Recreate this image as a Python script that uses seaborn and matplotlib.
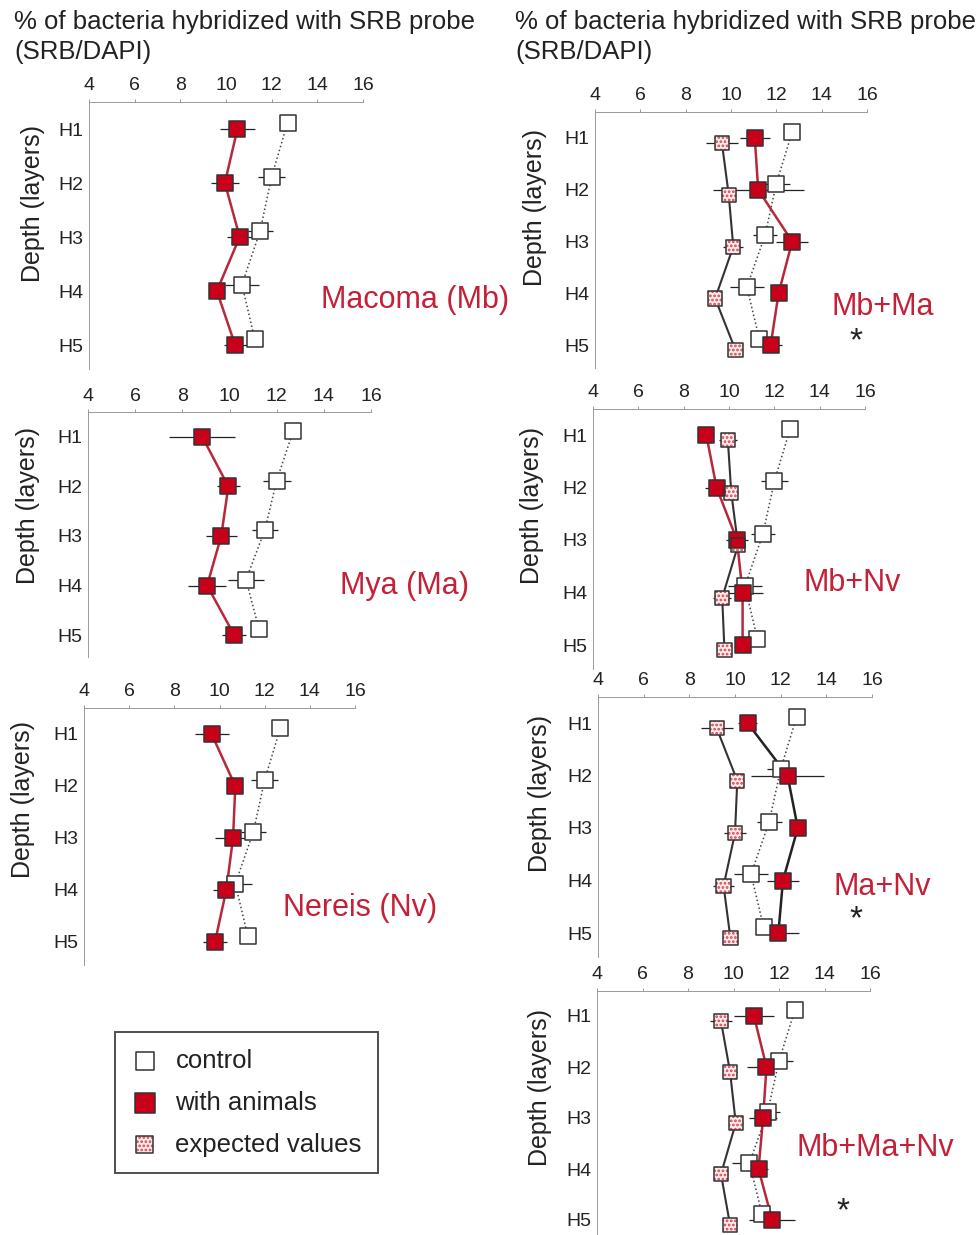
import numpy as np
import pandas as pd
import matplotlib
matplotlib.use("Agg")
import matplotlib.pyplot as plt
from matplotlib.legend_handler import HandlerTuple
import seaborn as sns

sns.set_theme(style="white")
plt.rcParams["font.family"] = ["Liberation Sans", "DejaVu Sans"]
plt.rcParams["hatch.linewidth"] = 1.3

# ---- data: % of bacteria hybridized with SRB probe (SRB/DAPI) per layer ----
layers = ["H1", "H2", "H3", "H4", "H5"]

control = [12.7, 12.0, 11.5, 10.7, 11.25]
control_err = [0.2, 0.6, 0.55, 0.75, 0.2]

macoma_animals = [10.5, 9.95, 10.6, 9.6, 10.4]
macoma_animals_err = [0.75, 0.6, 0.55, 0.35, 0.5]

mya_animals = [8.85, 9.95, 9.65, 9.05, 10.2]
mya_animals_err = [1.4, 0.5, 0.65, 0.8, 0.5]

nereis_animals = [9.65, 10.7, 10.6, 10.3, 9.8]
nereis_animals_err = [0.75, 0.3, 0.8, 0.6, 0.55]

mbma_animals = [11.05, 11.2, 12.7, 12.1, 11.75]
mbma_animals_err = [0.65, 2.0, 0.7, 0.3, 0.5]
mbma_expected = [9.6, 9.9, 10.1, 9.3, 10.2]
mbma_expected_err = [0.7, 0.3, 0.45, 0.3, 0.3]

mbnv_animals = [9.0, 9.45, 10.35, 10.6, 10.6]
mbnv_animals_err = [0.3, 0.5, 0.5, 0.9, 0.3]
mbnv_expected = [9.95, 10.1, 10.4, 9.7, 9.8]
mbnv_expected_err = [0.4, 0.3, 0.3, 0.4, 0.3]

manv_animals = [10.55, 12.3, 12.75, 12.1, 11.9]
manv_animals_err = [0.4, 1.6, 0.3, 0.7, 0.9]
manv_expected = [9.2, 10.1, 10.0, 9.5, 9.8]
manv_expected_err = [0.7, 0.3, 0.5, 0.45, 0.3]

mbmanv_animals = [10.9, 11.45, 11.3, 11.1, 11.7]
mbmanv_animals_err = [0.9, 0.85, 0.6, 0.4, 1.0]
mbmanv_expected = [9.45, 9.85, 10.1, 9.45, 9.85]
mbmanv_expected_err = [0.5, 0.3, 0.3, 0.3, 0.3]

x_ticks = [4, 6, 8, 10, 12, 14, 16]
axis_title = "% of bacteria hybridized with SRB probe\n(SRB/DAPI)"

# ---- styling ----
W, H = 976, 1235
RED = "#c8001a"
RED_LINE = "#b8283a"
LABEL_RED = "#c42038"
DOT_RED = "#d8404f"
EDGE = "#333333"
series_style = {
    "control": dict(face="white", line="#444444", ls=":", lw=1.1, s=125, dy=-0.12, hatch=None),
    "with animals": dict(face=RED, line=RED_LINE, ls="-", lw=1.8, s=135, dy=0.0, hatch=None),
    "expected values": dict(face="#fbecec", line="#333333", ls="-", lw=1.5, s=105, dy=0.1, hatch="...."),
}

fig = plt.figure(figsize=(W / 100, H / 100), dpi=100)
legend_handles = {}


def make_axes(x4, x16, y1, y5):
    unit = (y5 - y1) / 4
    top = y1 - 0.5 * unit
    bottom = y5 + 0.45 * unit
    ax = fig.add_axes([x4 / W, 1 - bottom / H, (x16 - x4) / W, (bottom - top) / H])
    return ax


def draw_panel(ax, series, name, name_xy, star_xy=None, ylabel_xy=None, animal_line=None):
    ypos = np.arange(len(layers))
    for label, (vals, errs) in series.items():
        st = series_style[label]
        df = pd.DataFrame({"value": vals, "y": ypos + st["dy"], "err": errs})
        line_color = animal_line if (label == "with animals" and animal_line) else st["line"]
        ax.errorbar(df["value"], df["y"], xerr=df["err"], fmt="none",
                    ecolor="#222222", elinewidth=0.9, capsize=0, zorder=2)
        sns.lineplot(data=df, x="value", y="y", orient="y", sort=True, estimator=None,
                     color=line_color, linestyle=st["ls"], linewidth=st["lw"], ax=ax,
                     zorder=3, legend=False)
        n_before = len(ax.collections)
        if st["hatch"]:
            # dotted pink fill (hatch takes the edge colour), then a dark outline on top
            sns.scatterplot(data=df, x="value", y="y", marker="s", s=st["s"],
                            color=st["face"], edgecolor=DOT_RED, linewidth=0,
                            hatch=st["hatch"], ax=ax, zorder=4, legend=False)
            sns.scatterplot(data=df, x="value", y="y", marker="s", s=st["s"],
                            facecolor="none", edgecolor=EDGE, linewidth=1.1,
                            ax=ax, zorder=5, legend=False)
            new = ax.collections[n_before:]
            legend_handles.setdefault(label, (new[0], new[1]))
        else:
            sns.scatterplot(data=df, x="value", y="y", marker="s", s=st["s"],
                            color=st["face"], edgecolor=EDGE, linewidth=1.1, ax=ax,
                            zorder=4, legend=False)
            legend_handles.setdefault(label, ax.collections[-1])

    ax.set_xlim(4, 16)
    ax.set_ylim(len(layers) - 0.55, -0.5)
    ax.xaxis.tick_top()
    ax.set_xticks(x_ticks)
    ax.set_xticklabels([str(t) for t in x_ticks])
    ax.set_yticks(ypos)
    ax.set_yticklabels(layers)
    ax.tick_params(axis="x", top=True, length=2.5, width=0.6, color="#888888",
                   pad=3, labelsize=14, labelcolor="#222222")
    ax.tick_params(axis="y", left=False, length=0, pad=4, labelsize=14, labelcolor="#222222")
    ax.set_xlabel("")
    ax.set_ylabel("")
    for side in ["right", "bottom"]:
        ax.spines[side].set_visible(False)
    for side in ["top", "left"]:
        ax.spines[side].set_color("#999999")
        ax.spines[side].set_linewidth(0.7)
    ax.patch.set_alpha(0)

    fig.text(name_xy[0] / W, 1 - name_xy[1] / H, name, color=LABEL_RED,
             fontsize=22, ha="center", va="center")
    if star_xy:
        fig.text(star_xy[0] / W, 1 - star_xy[1] / H, "*", color="#222222",
                 fontsize=24, ha="center", va="center")
    if ylabel_xy:
        fig.text(ylabel_xy[0] / W, 1 - ylabel_xy[1] / H, "Depth (layers)", rotation=90,
                 fontsize=18, color="#222222", ha="center", va="center")


# left column: single species
ax1 = make_axes(89, 363, 129, 345)
draw_panel(ax1, {"control": (control, control_err),
                 "with animals": (macoma_animals, macoma_animals_err)},
           "Macoma (Mb)", (415, 300), ylabel_xy=(33, 204))

ax2 = make_axes(88, 371, 437, 635)
draw_panel(ax2, {"control": (control, control_err),
                 "with animals": (mya_animals, mya_animals_err)},
           "Mya (Ma)", (405, 586), ylabel_xy=(28, 505))

ax3 = make_axes(84, 355, 734, 942)
draw_panel(ax3, {"control": (control, control_err),
                 "with animals": (nereis_animals, nereis_animals_err)},
           "Nereis (Nv)", (360, 908), ylabel_xy=(23, 800))

# right column: species combinations
ax4 = make_axes(595, 867, 138, 345)
draw_panel(ax4, {"control": (control, control_err),
                 "expected values": (mbma_expected, mbma_expected_err),
                 "with animals": (mbma_animals, mbma_animals_err)},
           "Mb+Ma", (883, 307), star_xy=(856, 342), ylabel_xy=(535, 207))

ax5 = make_axes(593, 865, 435, 645)
draw_panel(ax5, {"control": (control, control_err),
                 "expected values": (mbnv_expected, mbnv_expected_err),
                 "with animals": (mbnv_animals, mbnv_animals_err)},
           "Mb+Nv", (852, 583), ylabel_xy=(532, 505))

ax6 = make_axes(598, 872, 723, 933)
draw_panel(ax6, {"control": (control, control_err),
                 "expected values": (manv_expected, manv_expected_err),
                 "with animals": (manv_animals, manv_animals_err)},
           "Ma+Nv", (882, 887), star_xy=(856, 920), ylabel_xy=(540, 793),
           animal_line="#222222")

ax7 = make_axes(597, 870, 1016, 1220)
draw_panel(ax7, {"control": (control, control_err),
                 "expected values": (mbmanv_expected, mbmanv_expected_err),
                 "with animals": (mbmanv_animals, mbmanv_animals_err)},
           "Mb+Ma+Nv", (875, 1148), star_xy=(843, 1212), ylabel_xy=(540, 1088))

# axis titles above each column
for x0 in (14, 515):
    fig.text(x0 / W, 1 - 10 / H, axis_title, fontsize=18.5, color="#222222",
             ha="left", va="top", linespacing=1.3)

# legend built from the marker handles of the panels
order = ["control", "with animals", "expected values"]
leg = fig.legend([legend_handles[k] for k in order], order, loc="upper left",
                 bbox_to_anchor=(115 / W, 1 - 1032 / H), borderaxespad=0,
                 fontsize=18.5, frameon=True, fancybox=False, edgecolor="#222222",
                 handletextpad=0.7, labelspacing=0.7, borderpad=0.65,
                 handlelength=1.0, markerscale=1.2,
                 handler_map={tuple: HandlerTuple(ndivide=1, pad=0)})
leg.get_frame().set_linewidth(1.4)
for t in leg.get_texts():
    t.set_color("#222222")

fig.savefig("out.png", dpi=100)
